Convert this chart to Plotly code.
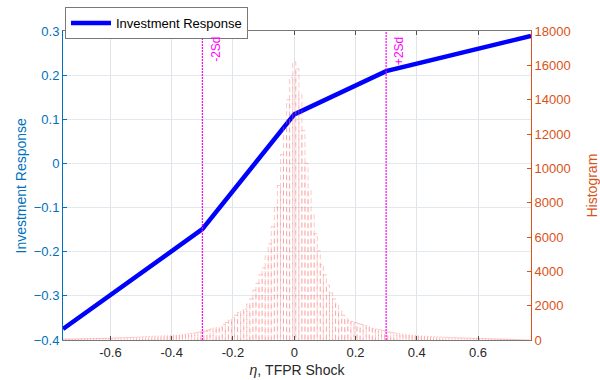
import plotly.graph_objects as go

# Investment response schedule (piecewise in the TFPR shock)
eta_knots = [-0.755, -0.3, 0.0, 0.3, 0.773]
response = [-0.375, -0.149, 0.111, 0.209, 0.289]

# Histogram of shocks: bins of width 0.01 centred at k*0.01, k = -75..77
bin_width = 0.01
bin_start_k = -75
counts_left = [  # k = -75 .. -1
    57, 59, 61, 63, 66, 69, 72, 75, 78, 81, 85, 89, 93, 97, 101, 106, 112, 118,
    124, 130, 137, 144, 151, 159, 167, 176, 186, 196, 206, 216, 226, 236, 247,
    258, 270, 283, 297, 312, 328, 345, 365, 385, 405, 430, 460, 490, 530, 580,
    640, 700, 720, 800, 900, 1020, 1150, 1300, 1450, 1600, 1750, 1800, 2100,
    2400, 2900, 3300, 3800, 4200, 4900, 5600, 6600, 7800, 9000, 10800, 12400,
    14000, 15300,
]
counts_right = [  # k = 0 .. 77
    16200, 15800, 14300, 12200, 10300, 8700, 7300, 6200, 5200, 4400, 3800, 3200,
    2750, 2400, 2100, 1700, 1450, 1250, 1150, 1080, 1020, 960, 900, 840, 780,
    720, 680, 640, 600, 550, 500, 460, 430, 400, 370, 345, 325, 310, 295, 280,
    268, 255, 240, 225, 212, 198, 188, 178, 168, 160, 152, 145, 138, 131, 124,
    118, 112, 106, 100, 95, 90, 85, 80, 76, 72, 68, 62, 56, 50, 44, 38, 32, 26,
    20, 15, 10, 6, 3,
]
counts = counts_left + counts_right

x_ticks = [-0.6, -0.4, -0.2, 0, 0.2, 0.4, 0.6]
sd_lines = [-0.3, 0.3]
sd_labels = ["-2Sd", "+2Sd"]

BLUE_AX = "rgb(0,114,189)"
ORANGE_AX = "rgb(217,83,25)"
FONT = "Liberation Sans, Arial, sans-serif"

# Figure geometry (pixels)
W, H = 600, 380
ML, MR, MT, MB = 63, 69, 31, 40
plot_w = W - ML - MR

# Outline each histogram bar as a dashed rectangle
hx, hy = [], []
for i, c in enumerate(counts):
    centre = (bin_start_k + i) * bin_width
    lo, hi = centre - bin_width / 2, centre + bin_width / 2
    hx += [lo, lo, hi, hi, None]
    hy += [0, c, c, 0, None]

fig = go.Figure()
fig.add_trace(go.Scatter(
    x=eta_knots, y=response, mode="lines", name="Investment Response",
    line=dict(color="rgb(0,0,255)", width=4.5), yaxis="y",
))
fig.add_trace(go.Scatter(
    x=hx, y=hy, mode="lines", showlegend=False, yaxis="y2",
    line=dict(color="rgba(250,110,110,0.38)", width=1, dash="5px,3px"),
))

for xv, lab in zip(sd_lines, sd_labels):
    fig.add_shape(type="line", x0=xv, x1=xv, xref="x", y0=0, y1=1, yref="paper",
                  line=dict(color="rgb(255,0,255)", width=1.2, dash="2px,1px"))
    fig.add_annotation(x=xv, y=1, xref="x", yref="paper", text=lab,
                       textangle=-90, showarrow=False, xanchor="left",
                       yanchor="top", xshift=4, yshift=-4,
                       font=dict(color="rgb(255,0,255)", size=12, family=FONT))

# Vertical axis titles
fig.add_annotation(x=(20 - ML) / plot_w, y=0.5, xref="paper", yref="paper",
                   text="Investment Response", textangle=-90, showarrow=False,
                   xanchor="center", yanchor="middle",
                   font=dict(color=BLUE_AX, size=14, family=FONT))
fig.add_annotation(x=(591 - ML) / plot_w, y=0.5, xref="paper", yref="paper",
                   text="Histogram", textangle=-90, showarrow=False,
                   xanchor="center", yanchor="middle",
                   font=dict(color=ORANGE_AX, size=14, family=FONT))

fig.update_layout(
    width=W, height=H,
    margin=dict(l=ML, r=MR, t=MT, b=MB, autoexpand=False),
    paper_bgcolor="white", plot_bgcolor="white",
    font=dict(family=FONT, size=13),
    showlegend=True,
    legend=dict(x=65 / W, y=1 - 7 / H, xref="container", yref="container",
                xanchor="left", yanchor="top",
                bordercolor="rgb(120,120,120)", borderwidth=1, bgcolor="white",
                font=dict(size=13, color="black"), tracegroupgap=0,
                itemwidth=40),
    xaxis=dict(
        range=[-0.755, 0.773], tickvals=x_ticks,
        ticktext=[f"{v:g}" for v in x_ticks],
        ticks="inside", ticklen=4, tickcolor="rgb(80,80,80)",
        showline=True, linecolor="rgb(120,120,120)", linewidth=1,
        mirror="ticks", showgrid=True, gridcolor="rgb(225,228,232)",
        zeroline=False, tickfont=dict(color="rgb(40,40,40)", size=13),
        title=dict(text="<i>η</i>, TFPR Shock", standoff=6,
                   font=dict(color="rgb(40,40,40)", size=14)),
    ),
    yaxis=dict(
        range=[-0.4, 0.3], dtick=0.1, tickformat="~g",
        ticks="inside", ticklen=4, tickcolor=BLUE_AX,
        showline=True, linecolor=BLUE_AX, linewidth=1,
        showgrid=True, gridcolor="rgb(225,232,238)", zeroline=False,
        tickfont=dict(color=BLUE_AX, size=13),
    ),
    yaxis2=dict(
        range=[0, 18000], dtick=2000, tickformat="d", overlaying="y",
        side="right",
        ticks="inside", ticklen=4, tickcolor=ORANGE_AX,
        showline=True, linecolor=ORANGE_AX, linewidth=1,
        showgrid=False, zeroline=False,
        tickfont=dict(color=ORANGE_AX, size=13),
    ),
)

fig.write_html("out.html")
